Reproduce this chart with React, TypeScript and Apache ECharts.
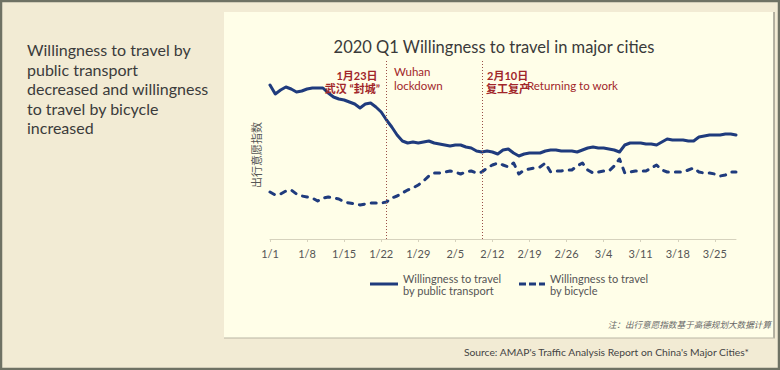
import { useEffect, useRef } from "react";
import * as echarts from "echarts";

// Categories: daily dates 1/1 .. 3/29 (2020 Q1)
const months = [1, 2, 3];
const daysShown = [31, 29, 29];
const dates: string[] = [];
months.forEach((m, i) => {
  for (let d = 1; d <= daysShown[i]; d++) dates.push(`${m}/${d}`);
});

// Index values (relative units)
const publicTransport = [
  154, 145, 149, 152, 150, 147, 148, 150, 151, 151, 151, 146, 142, 140, 139, 137, 135, 131, 135, 136,
  132, 127, 119, 112, 104, 98, 96, 97, 96, 97, 98, 96, 95, 94, 93, 94, 94, 92, 91, 88,
  87, 88, 87, 85, 89, 90, 86, 83, 85, 86, 86, 86, 88, 89, 89, 88, 88, 88, 87, 89,
  91, 92, 91, 91, 90, 89, 87, 94, 96, 96, 96, 95, 95, 94, 97, 100, 99, 99, 99, 98,
  98, 102, 103, 104, 104, 104, 105, 105, 104,
];
const bicycle = [
  47, 44, 45, 48, 49, 45, 43, 42, 41, 38, 41, 42, 41, 40, 37, 36, 35, 34, 35, 36,
  36, 36, 37, 41, 43, 46, 49, 51, 54, 58, 63, 66, 66, 67, 68, 67, 65, 67, 68, 66,
  67, 71, 74, 76, 74, 72, 76, 65, 69, 70, 71, 72, 76, 67, 68, 68, 69, 69, 73, 76,
  69, 66, 67, 68, 68, 73, 80, 66, 67, 68, 68, 68, 71, 74, 69, 67, 67, 67, 67, 69,
  71, 67, 66, 66, 65, 63, 64, 67, 67,
];

const seriesNames = [
  "Willingness to travel\nby public transport",
  "Willingness to travel\nby bicycle",
];
const eventDates = ["1/23", "2/10"];

const FONT = "Lato, 'Noto Sans CJK SC', sans-serif";
const RED = "#a1262a";
const NAVY = "#1f3b7d";

export default function App() {
  const ref = useRef<HTMLDivElement>(null);
  useEffect(() => {
    if (!ref.current) return;
    const chart = echarts.init(ref.current, null, { renderer: "svg" });
    const legendText = { color: "#555", fontSize: 11, lineHeight: 12, fontFamily: FONT };
    chart.setOption({
      animation: false,
      textStyle: { fontFamily: FONT },
      grid: { left: 270, right: 44, top: 59, bottom: 131 },
      xAxis: {
        type: "category",
        data: dates,
        boundaryGap: false,
        axisLine: { lineStyle: { color: "#d6d2bd", width: 1 } },
        axisTick: { interval: 6, length: 3, lineStyle: { color: "#d6d2bd" } },
        axisLabel: {
          interval: 6,
          color: "#555",
          fontSize: 11,
          margin: 9,
          fontFamily: FONT,
        },
        splitLine: { show: false },
      },
      yAxis: {
        type: "value",
        min: 0,
        max: 180,
        show: false,
      },
      legend: [
        {
          data: [{ name: seriesNames[0], icon: "path://M0,0h28v3h-28z" }],
          left: 365,
          top: 267,
          itemWidth: 28,
          itemHeight: 3,
          textStyle: legendText,
        },
        {
          data: [{ name: seriesNames[1], icon: "path://M0,0h7v3h-7z M10,0h7v3h-7z M20,0h6v3h-6z" }],
          left: 514,
          top: 267,
          itemWidth: 26,
          itemHeight: 3,
          textStyle: legendText,
        },
      ],
      series: [
        {
          name: seriesNames[0],
          type: "line",
          data: publicTransport,
          symbol: "none",
          lineStyle: { color: NAVY, width: 3, join: "round", cap: "round" },
          itemStyle: { color: NAVY },
          markLine: {
            silent: true,
            symbol: "none",
            label: { show: false },
            lineStyle: { color: "#9a4f48", type: [1, 2], width: 1 },
            data: eventDates.map((d) => ({ xAxis: d })),
          },
          z: 3,
        },
        {
          name: seriesNames[1],
          type: "line",
          data: bicycle,
          symbol: "none",
          lineStyle: { color: NAVY, width: 3, type: [5, 7], cap: "round", join: "round" },
          itemStyle: { color: NAVY },
          z: 3,
        },
      ],
      graphic: [
        { type: "rect", z: -10, shape: { x: 0, y: 0, width: 780, height: 370 }, style: { fill: "#f2ebd4" } },
        { type: "rect", z: -9, shape: { x: 224, y: 12, width: 550, height: 326 }, style: { fill: "#fffee8" } },
        { type: "line", z: -8, shape: { x1: 774, y1: 12, x2: 774, y2: 338 }, style: { stroke: "#9c9a8c", lineWidth: 1.5 } },
        { type: "line", z: -8, shape: { x1: 224, y1: 338, x2: 775, y2: 338 }, style: { stroke: "#b9b6a4", lineWidth: 1 } },
        { type: "rect", z: 20, shape: { x: 1, y: 1, width: 778, height: 368 }, style: { fill: "none", stroke: "#6f7264", lineWidth: 2.5 } },
        {
          type: "text", z: 10, left: 27, top: 40,
          style: {
            text: "Willingness to travel by\npublic transport\ndecreased and willingness\nto travel by bicycle\nincreased",
            fontSize: 16, lineHeight: 19.5, fill: "#3b3b3b", fontFamily: FONT,
          },
        },
        {
          type: "text", z: 10, x: 494, y: 47,
          style: {
            text: "2020 Q1 Willingness to travel in major cities",
            fontSize: 16.5, fill: "#3a3a3a", fontFamily: FONT, align: "center", verticalAlign: "middle",
          },
        },
        {
          type: "text", z: 10, x: 357, y: 75,
          style: { text: "1月23日", fontSize: 11, fontWeight: "bold", fill: RED, fontFamily: FONT, align: "center", verticalAlign: "middle" },
        },
        {
          type: "text", z: 10, x: 380, y: 88,
          style: { text: "武汉 “封城”", fontSize: 11, fontWeight: "bold", fill: RED, fontFamily: FONT, align: "right", verticalAlign: "middle" },
        },
        {
          type: "text", z: 10, x: 394, y: 71,
          style: { text: "Wuhan", fontSize: 11.5, fill: RED, fontFamily: FONT, verticalAlign: "middle" },
        },
        {
          type: "text", z: 10, x: 394, y: 85,
          style: { text: "lockdown", fontSize: 11.5, fill: RED, fontFamily: FONT, verticalAlign: "middle" },
        },
        {
          type: "text", z: 10, x: 487, y: 75,
          style: { text: "2月10日", fontSize: 11, fontWeight: "bold", fill: RED, fontFamily: FONT, verticalAlign: "middle" },
        },
        {
          type: "text", z: 10, x: 486, y: 88,
          style: { text: "复工复产", fontSize: 11, fontWeight: "bold", fill: RED, fontFamily: FONT, verticalAlign: "middle" },
        },
        {
          type: "text", z: 10, x: 527, y: 85,
          style: { text: "Returning to work", fontSize: 11.5, fill: RED, fontFamily: FONT, verticalAlign: "middle" },
        },
        {
          type: "text", z: 10, x: 256, y: 155, rotation: Math.PI / 2,
          style: { text: "出行意愿指数", fontSize: 11, fill: "#555", fontFamily: FONT, align: "center", verticalAlign: "middle" },
        },
        {
          type: "text", z: 10, x: 771, y: 325,
          style: {
            text: "注：出行意愿指数基于高德规划大数据计算",
            fontSize: 8.6, fontStyle: "italic", fill: "#666", fontFamily: FONT, align: "right", verticalAlign: "middle",
          },
        },
        {
          type: "text", z: 10, x: 749, y: 352,
          style: {
            text: "Source: AMAP's Traffic Analysis Report on China's Major Cities*",
            fontSize: 10.3, fill: "#444", fontFamily: FONT, align: "right", verticalAlign: "middle",
          },
        },
      ],
    });
    return () => chart.dispose();
  }, []);
  return (
    <div
      ref={ref}
      style={{ position: "absolute", left: 0, top: 0, width: 780, height: 370 }}
    />
  );
}
